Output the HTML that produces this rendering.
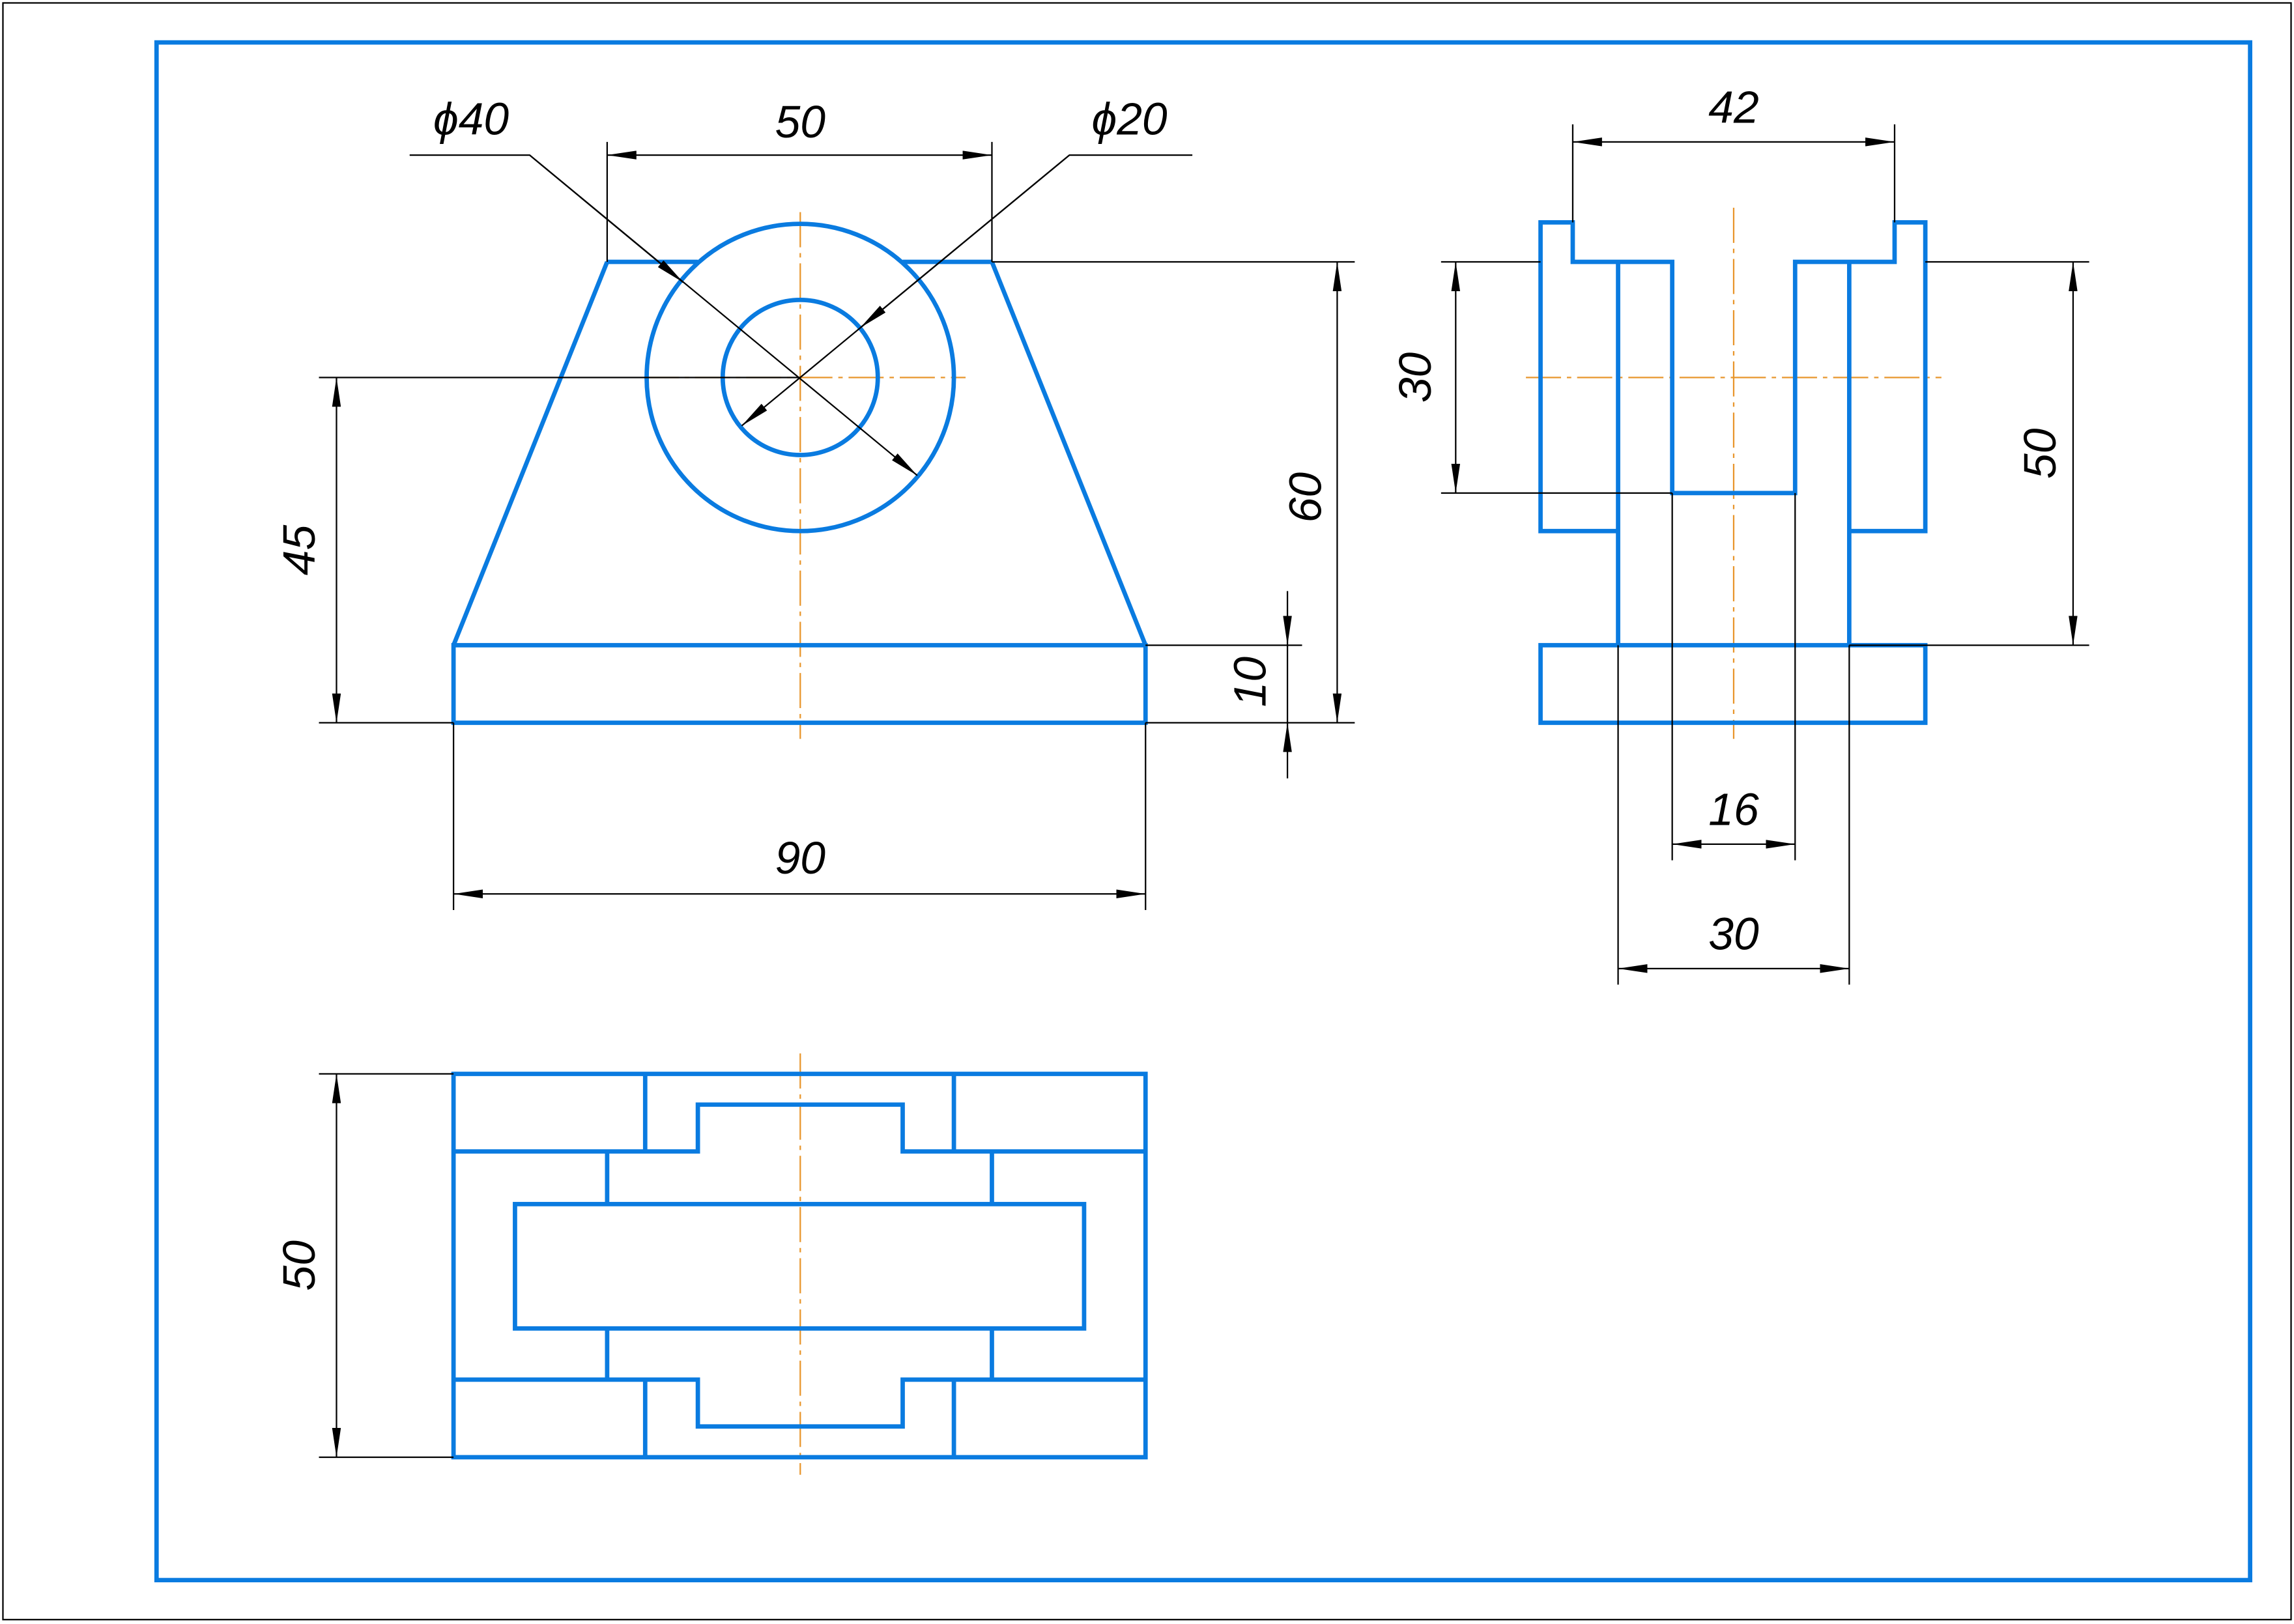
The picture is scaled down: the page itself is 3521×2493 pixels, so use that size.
<!DOCTYPE html>
<html><head><meta charset="utf-8"><style>
html,body{margin:0;padding:0;background:#fff;}
svg{display:block;}
text{font-family:"Liberation Sans",sans-serif;font-style:italic;font-size:31px;fill:#000;}
</style></head><body>
<svg width="3521" height="2493" viewBox="0 0 1568 1110" preserveAspectRatio="none" xmlns="http://www.w3.org/2000/svg">
<defs>
<marker id="a" viewBox="0 0 20 6" refX="20" refY="3" markerWidth="20" markerHeight="6" markerUnits="userSpaceOnUse" orient="auto-start-reverse"><path d="M0,0 L20,3 L0,6 Z" fill="#000"/></marker>
</defs>
<rect x="0" y="0" width="1568" height="1110" fill="#fff"/>
<rect x="2" y="2" width="1564" height="1105" fill="none" stroke="#000" stroke-width="1"/>
<rect x="107" y="29" width="1431" height="1051" fill="none" stroke="#0a7be0" stroke-width="3"/>

<!-- center lines -->
<g stroke="#e8952a" stroke-width="1" stroke-dasharray="24,4,3,4" fill="none">
<line x1="547" y1="145" x2="547" y2="505"/>
<line x1="440" y1="258" x2="660" y2="258"/>
<line x1="1185" y1="142" x2="1185" y2="505"/>
<line x1="1043" y1="258" x2="1327" y2="258"/>
<line x1="547" y1="720" x2="547" y2="1008"/>
</g>

<!-- blue geometry -->
<g stroke="#0a7be0" stroke-width="3" fill="none" stroke-linejoin="miter">
<!-- front -->
<line x1="415" y1="179" x2="477" y2="179"/>
<line x1="617" y1="179" x2="678" y2="179"/>
<line x1="415" y1="179" x2="310" y2="441"/>
<line x1="678" y1="179" x2="783" y2="441"/>
<rect x="310" y="441" width="473" height="53"/>
<circle cx="547" cy="258" r="105"/>
<circle cx="547" cy="258" r="53"/>
<!-- side -->
<path d="M1106,363 L1053,363 L1053,152 L1075,152 L1075,179 L1143,179 L1143,337 L1227,337 L1227,179 L1295,179 L1295,152 L1316,152 L1316,363 L1264,363"/>
<line x1="1106" y1="179" x2="1106" y2="441"/>
<line x1="1264" y1="179" x2="1264" y2="441"/>
<rect x="1053" y="441" width="263" height="53"/>
<!-- top -->
<rect x="310" y="734" width="473" height="262"/>
<path d="M441,734 L441,787 M652,734 L652,787"/>
<path d="M310,787 L477,787 L477,755 L617,755 L617,787 L783,787"/>
<path d="M415,787 L415,823 M678,787 L678,823"/>
<rect x="352" y="823" width="389" height="85"/>
<path d="M415,908 L415,943 M678,908 L678,943"/>
<path d="M310,943 L477,943 L477,975 L617,975 L617,943 L783,943"/>
<path d="M441,943 L441,996 M652,943 L652,996"/>
</g>

<!-- thin dimension lines -->
<g stroke="#000" stroke-width="1" fill="none">
<!-- front -->
<line x1="415" y1="97" x2="415" y2="179"/>
<line x1="678" y1="97" x2="678" y2="179"/>
<line x1="415" y1="106" x2="678" y2="106" marker-start="url(#a)" marker-end="url(#a)"/>
<polyline points="280,106 362,106 627,325" marker-end="url(#a)"/>
<line x1="362" y1="106" x2="467" y2="193" marker-end="url(#a)"/>
<polyline points="815,106 731,106 507,291" marker-end="url(#a)"/>
<line x1="731" y1="106" x2="588" y2="224" marker-end="url(#a)"/>
<line x1="218" y1="258" x2="547" y2="258"/>
<line x1="218" y1="494" x2="310" y2="494"/>
<line x1="230" y1="258" x2="230" y2="494" marker-start="url(#a)" marker-end="url(#a)"/>
<line x1="678" y1="179" x2="926" y2="179"/>
<line x1="783" y1="494" x2="926" y2="494"/>
<line x1="914" y1="179" x2="914" y2="494" marker-start="url(#a)" marker-end="url(#a)"/>
<line x1="783" y1="441" x2="890" y2="441"/>
<line x1="880" y1="404" x2="880" y2="441" marker-end="url(#a)"/>
<line x1="880" y1="532" x2="880" y2="494" marker-end="url(#a)"/>
<line x1="880" y1="441" x2="880" y2="494"/>
<line x1="310" y1="494" x2="310" y2="622"/>
<line x1="783" y1="494" x2="783" y2="622"/>
<line x1="310" y1="611" x2="783" y2="611" marker-start="url(#a)" marker-end="url(#a)"/>
<!-- side -->
<line x1="1075" y1="85" x2="1075" y2="152"/>
<line x1="1295" y1="85" x2="1295" y2="152"/>
<line x1="1075" y1="97" x2="1295" y2="97" marker-start="url(#a)" marker-end="url(#a)"/>
<line x1="985" y1="179" x2="1053" y2="179"/>
<line x1="985" y1="337" x2="1143" y2="337"/>
<line x1="995" y1="179" x2="995" y2="337" marker-start="url(#a)" marker-end="url(#a)"/>
<line x1="1316" y1="179" x2="1428" y2="179"/>
<line x1="1264" y1="441" x2="1428" y2="441"/>
<line x1="1417" y1="179" x2="1417" y2="441" marker-start="url(#a)" marker-end="url(#a)"/>
<line x1="1143" y1="337" x2="1143" y2="588"/>
<line x1="1227" y1="337" x2="1227" y2="588"/>
<line x1="1143" y1="577" x2="1227" y2="577" marker-start="url(#a)" marker-end="url(#a)"/>
<line x1="1106" y1="441" x2="1106" y2="673"/>
<line x1="1264" y1="441" x2="1264" y2="673"/>
<line x1="1106" y1="662" x2="1264" y2="662" marker-start="url(#a)" marker-end="url(#a)"/>
<!-- top -->
<line x1="218" y1="734" x2="310" y2="734"/>
<line x1="218" y1="996" x2="310" y2="996"/>
<line x1="230" y1="734" x2="230" y2="996" marker-start="url(#a)" marker-end="url(#a)"/>
</g>

<!-- labels -->
<text x="547" y="94" text-anchor="middle">50</text>
<text x="322" y="92" text-anchor="middle">ϕ40</text>
<text x="772" y="92" text-anchor="middle">ϕ20</text>
<text x="547" y="597" text-anchor="middle">90</text>
<text transform="translate(215,376) rotate(-90)" text-anchor="middle">45</text>
<text transform="translate(903,340) rotate(-90)" text-anchor="middle">60</text>
<text transform="translate(865,466) rotate(-90)" text-anchor="middle">10</text>
<text x="1185" y="84" text-anchor="middle">42</text>
<text transform="translate(978,258) rotate(-90)" text-anchor="middle">30</text>
<text transform="translate(1405,310) rotate(-90)" text-anchor="middle">50</text>
<text x="1185" y="564" text-anchor="middle">16</text>
<text x="1185" y="649" text-anchor="middle">30</text>
<text transform="translate(215,865) rotate(-90)" text-anchor="middle">50</text>
</svg>
</body></html>
